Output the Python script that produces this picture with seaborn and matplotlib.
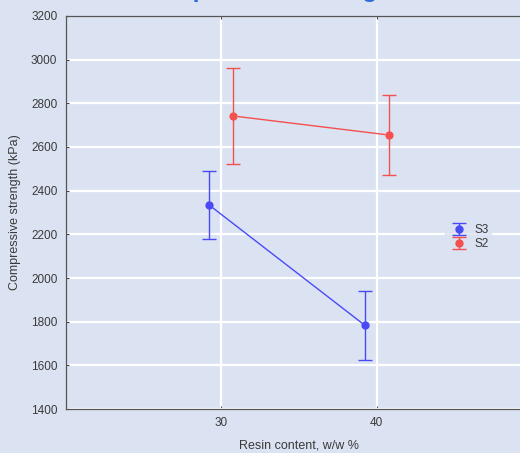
import matplotlib
matplotlib.use("Agg")
import matplotlib.pyplot as plt
import seaborn as sns
import pandas as pd

# Mean compressive strength (kPa) and error half-widths per resin content
resin = [30, 40]
groups = ["S3", "S2"]
s3_mean = [2333, 1783]
s3_err = [156, 159]
s2_mean = [2742, 2655]
s2_err = [222, 185]
yticks = [1400, 1600, 1800, 2000, 2200, 2400, 2600, 2800, 3000, 3200]
xticks = [30, 40]

bg = "#dbe3f3"
sns.set_theme(style="whitegrid", rc={
    "axes.facecolor": bg,
    "figure.facecolor": bg,
    "grid.color": "white",
    "grid.linewidth": 1.6,
    "axes.edgecolor": "#555555",
    "axes.linewidth": 0.9,
})
plt.rcParams["font.family"] = ["Liberation Sans", "DejaVu Sans"]

df = pd.DataFrame({
    "resin": resin * 2,
    "strength": s3_mean + s2_mean,
    "err": s3_err + s2_err,
    "group": [groups[0]] * 2 + [groups[1]] * 2,
})
# horizontal dodge so the two groups' bars don't overlap
dodge = {"S3": -0.75, "S2": 0.78}
df["x"] = df["resin"] + df["group"].map(dodge)

palette = {"S3": "#4a4af5", "S2": "#f55050"}

fig = plt.figure(figsize=(5.2, 4.53), dpi=100)
ax = fig.add_axes([0.1263, 0.0971, 0.897, 0.8676])

sns.lineplot(data=df, x="x", y="strength", hue="group", palette=palette,
             marker="o", markersize=5, linewidth=1.0, legend=False, ax=ax,
             markeredgewidth=0.8)

handles = []
for g in groups:
    sub = df[df["group"] == g]
    h = ax.errorbar(sub["x"], sub["strength"], yerr=sub["err"], fmt="o",
                    color=palette[g], ms=5, elinewidth=1.0, capsize=4.7,
                    capthick=1.0, label=g)
    handles.append(h)

ax.set_xlim(20, 50)
ax.set_ylim(1400, 3200)
ax.set_xticks(xticks)
ax.set_yticks(yticks)
ax.grid(True, color="white", linewidth=1.6)
for side in ["left", "bottom", "top"]:
    ax.spines[side].set_visible(True)
    ax.spines[side].set_color("#555555")
ax.spines["right"].set_visible(False)
ax.tick_params(axis="both", direction="in", length=2, width=0.8,
               color="#444444", labelsize=8.5, labelcolor="#3a3a3a", pad=6)
ax.tick_params(axis="x", top=True, bottom=True)
ax.tick_params(axis="y", left=True)

ax.set_xlabel("Resin content, w/w %", fontsize=9, color="#3a3a3a", labelpad=7)
ax.set_ylabel("Compressive strength (kPa)", fontsize=9, color="#3a3a3a",
              labelpad=4)
ax.yaxis.set_label_coords(-0.095, 0.5)

leg = ax.legend(handles=handles, labels=groups, loc="center left",
                bbox_to_anchor=(0.80, 0.437), frameon=True, fontsize=8.5,
                handlelength=2.0, handletextpad=0.3, labelspacing=0.15,
                borderpad=0.2)
leg.get_frame().set_facecolor(bg)
leg.get_frame().set_edgecolor(bg)
for t in leg.get_texts():
    t.set_color("#3a3a3a")

fig.text(137 / 520, 1 + 3 / 453, "Compressive strength", fontsize=18,
         fontweight="bold", color="#2e6bd6", ha="left", va="baseline")

fig.savefig("out.png", dpi=100, facecolor=bg)
